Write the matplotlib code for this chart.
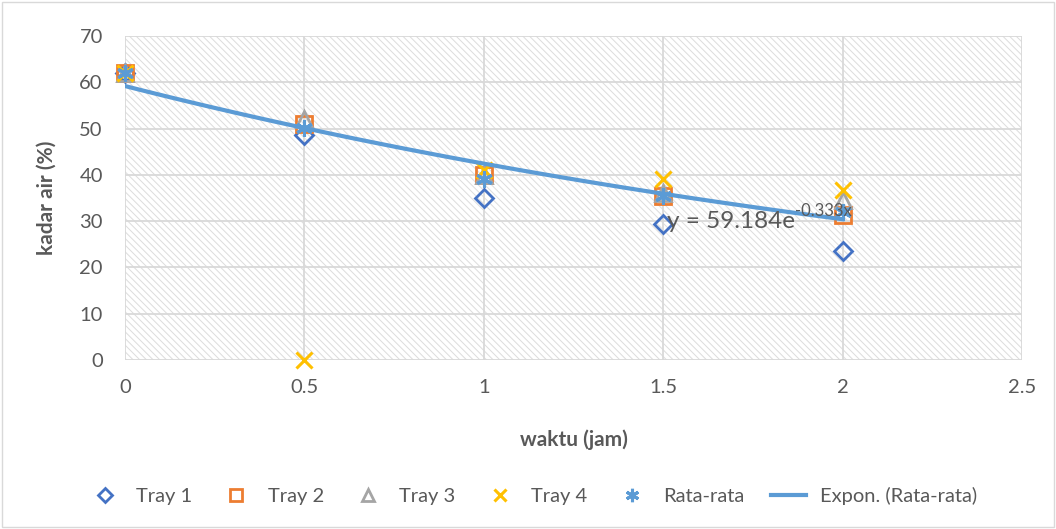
import numpy as np
import matplotlib
matplotlib.use("Agg")
import matplotlib.pyplot as plt
from matplotlib.patches import Rectangle

plt.rcParams['font.family'] = ['Lato', 'DejaVu Sans']
plt.rcParams['hatch.linewidth'] = 0.7

# data
waktu = [0, 0.5, 1, 1.5, 2]
tray1 = [62, 48.5, 35, 29.3, 23.5]
tray2 = [62, 51, 40, 35.5, 31.3]
tray3 = [62, 52, 40, 36, 34.5]
tray4 = [62, 0, 41, 39, 36.7]
rata = [62, 50.2, 39, 35.5, 32]

# exponential trend line coefficients (from chart label)
trend_a = 59.184
trend_b = -0.333

x_ticks = [0, 0.5, 1, 1.5, 2, 2.5]
x_labels = ['0', '0.5', '1', '1.5', '2', '2.5']
y_ticks = [0, 10, 20, 30, 40, 50, 60, 70]

txt = '#595959'

fig = plt.figure(figsize=(10.56, 5.29), dpi=100)
ax = fig.add_axes([0.1184, 0.3195, 0.8494, 0.6125])

ax.add_patch(Rectangle((0, 0), 1, 1, transform=ax.transAxes, facecolor='white',
                       edgecolor='#dcdcdc', linewidth=0, hatch='\\\\\\\\\\', zorder=0))
ax.set_xlim(0, 2.5)
ax.set_ylim(0, 70)
ax.set_xticks(x_ticks)
ax.set_xticklabels(x_labels)
ax.set_yticks(y_ticks)
ax.grid(True, color='#d9d9d9', linewidth=1.3, zorder=1)
ax.set_axisbelow(True)
for s in ax.spines.values():
    s.set_visible(False)
ax.tick_params(length=0, labelsize=14.5, colors=txt)
ax.tick_params(axis='x', pad=14)
ax.tick_params(axis='y', pad=16)

ax.plot(waktu, tray1, linestyle='none', marker='D', markersize=9, markerfacecolor='none',
        markeredgecolor='#4472C4', markeredgewidth=2, label='Tray 1', zorder=3, clip_on=False)
ax.plot(waktu, tray2, linestyle='none', marker='s', markersize=11, markerfacecolor='none',
        markeredgecolor='#ED7D31', markeredgewidth=2, label='Tray 2', zorder=3, clip_on=False)
ax.plot(waktu, tray3, linestyle='none', marker='^', markersize=11, markerfacecolor='none',
        markeredgecolor='#A5A5A5', markeredgewidth=2, label='Tray 3', zorder=3, clip_on=False)
ax.plot(waktu, tray4, linestyle='none', marker='x', markersize=11,
        markeredgecolor='#FFC000', markeredgewidth=2.2, label='Tray 4', zorder=3, clip_on=False)
ax.plot(waktu, rata, linestyle='none', marker=(6, 2, 0), markersize=12,
        markeredgecolor='#5B9BD5', markeredgewidth=2.2, label='Rata-rata', zorder=4, clip_on=False)

xt = np.linspace(waktu[0], waktu[-1], 100)
ax.plot(xt, trend_a * np.exp(trend_b * xt), color='#5B9BD5', linewidth=3,
        label='Expon. (Rata-rata)', zorder=5)

# trend equation label with superscript exponent
eq = ax.text(1.51, 30, 'y = 59.184e', fontsize=17.5, color=txt, va='center', zorder=6)
ax.annotate('-0.333x', xy=(1.0, 0.62), xycoords=eq, fontsize=12, color=txt,
            va='bottom', ha='left', zorder=6)

ax.set_xlabel('waktu (jam)', fontsize=15, fontweight='bold', color=txt)
ax.set_ylabel('kadar air (%)', fontsize=15, fontweight='bold', color=txt)
ax.xaxis.set_label_coords(0.5, -0.213)
ax.yaxis.set_label_coords(-0.076, 0.5)

leg = fig.legend(loc='center', bbox_to_anchor=(0.504, 0.062), ncol=6, frameon=False,
                 fontsize=14.5, handlelength=1.7, columnspacing=1.35, handletextpad=0.7,
                 markerscale=0.8)
for t in leg.get_texts():
    t.set_color(txt)

fig.patches.append(Rectangle((0.002, 0.003), 0.996, 0.994, transform=fig.transFigure,
                             fill=False, edgecolor='#d9d9d9', linewidth=1))

fig.savefig('out.png', dpi=100)
